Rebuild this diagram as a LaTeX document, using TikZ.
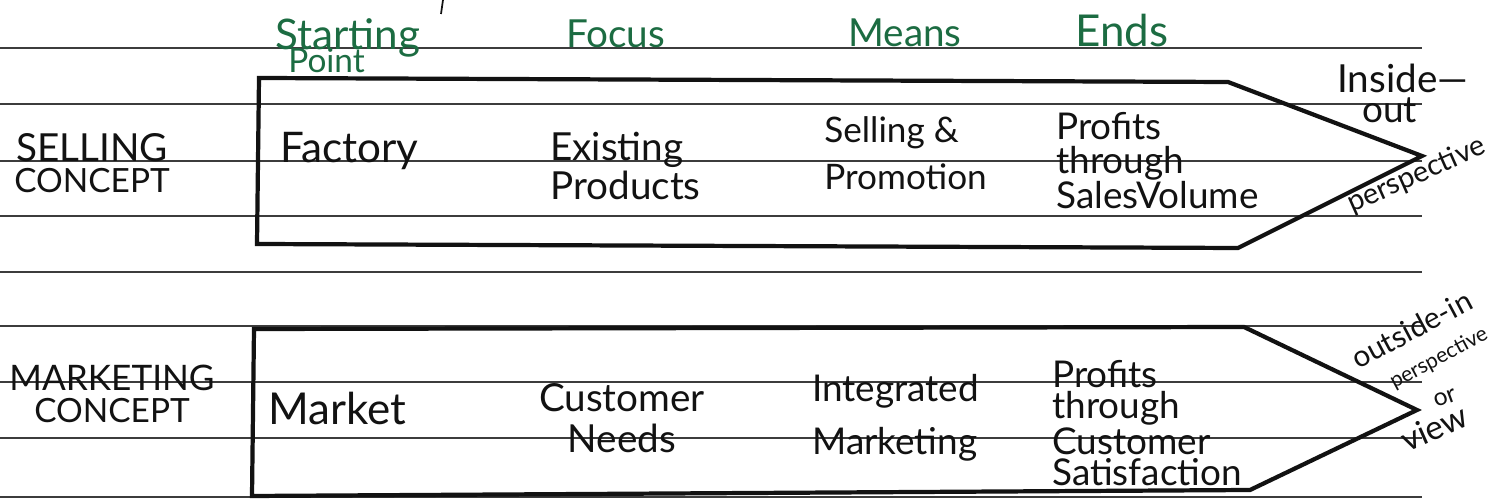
\documentclass[tikz,border=0pt]{standalone}
\usepackage{fontspec}
\setmainfont{Lato}
\definecolor{ink}{RGB}{18,18,18}
\definecolor{headgreen}{RGB}{28,108,66}
\definecolor{rulegray}{RGB}{60,60,60}
\newcommand{\fsz}[2]{\fontsize{#1}{#2}\selectfont}
\begin{document}
\begin{tikzpicture}[x=0.02cm,y=-0.02cm,
  ruled/.style={draw=rulegray, line width=1.1pt},
  outline/.style={draw=ink, line width=2.4pt, line join=miter},
  head/.style={text=headgreen, inner sep=0pt, anchor=base west, font=\fsz{22}{22}},
  word/.style={text=ink, inner sep=0pt},
  rowlabel/.style={word, align=center},
  cell/.style={word, align=left, anchor=west},
  note/.style={word, inner sep=0pt, anchor=base west}
]
\useasboundingbox (0,0) rectangle (1502,502);
\fill[white] (0,0) rectangle (1502,502);
\begin{scope}
\clip (0,0) rectangle (1502,502);

% ruled paper
\foreach \y in {48,104,161,216,272,326,382,438,497}
  \draw[ruled] (0,\y) -- (1422,\y);

% pen tick at the top
\draw[ink, line width=1pt] (443,0) -- (441,14);

% column headings
\node[head, font=\fsz{24}{24}] (hstart) at (275,50) {Starting};
\node[head, font=\fsz{19}{19}] (hpoint) at (288,73) {Point};
\node[head] (hfocus) at (566,48) {Focus};
\node[head] (hmeans) at (848,47) {Means};
\node[head, font=\fsz{25}{25}] (hends) at (1075,47) {Ends};

% selling concept arrow
\coordinate (s1) at (259,78);
\coordinate (s2) at (1228,82);
\coordinate (stip) at (1422,156);
\coordinate (s3) at (1238,248);
\coordinate (s4) at (257,244);
\draw[outline] (s1) -- (s2) -- (stip) -- (s3) -- (s4) -- cycle;

\node[rowlabel] (sell) at (92,163) {\fsz{22}{24}SELLING\\[3pt]\fsz{19}{21}CONCEPT};
\node[word, anchor=base west, font=\fsz{24}{24}] (factory) at (280,163) {Factory};
\node[cell, font=\fsz{22}{22}] (existing) at (550,166) {Existing\\Products};
\node[cell, font=\fsz{20}{27}] (selling) at (824,153) {Selling \&\\Promotion};
\node[cell, font=\fsz{21}{19}] (profits1) at (1056,161) {Profits\\through\\SalesVolume};

\node[note, font=\fsz{22}{22}] (inside) at (1337,93) {Inside—};
\node[note, font=\fsz{21}{21}] (out) at (1362,123) {out};
\node[note, rotate=24, font=\fsz{16.5}{16.5}] (persp1) at (1352,213) {perspective};

% marketing concept arrow
\coordinate (m1) at (254,329);
\coordinate (m2) at (1244,327);
\coordinate (mtip) at (1417,410);
\coordinate (m3) at (1250,490);
\coordinate (m4) at (252,496);
\draw[outline] (m1) -- (m2) -- (mtip) -- (m3) -- (m4) -- cycle;

\node[rowlabel] (mark) at (112,394) {\fsz{20}{22}MARKETING\\[3pt]\fsz{19}{22}CONCEPT};
\node[word, anchor=base west, font=\fsz{25}{25}] (market) at (268,425) {Market};
\node[word, align=center, font=\fsz{22}{23}] (customer) at (622,418) {Customer\\Needs};
\node[cell, font=\fsz{21}{30}] (integrated) at (812,418) {Integrated\\Marketing};
\node[cell, font=\fsz{21}{18}] (profits2) at (1052,423) {Profits\\through\\Customer\\Satisfaction};

\node[note, rotate=28, font=\fsz{17}{17}] (outin) at (1358,370) {outside-in};
\node[note, rotate=28, font=\fsz{12}{12}] (persp2) at (1394,389) {perspective};
\node[note, rotate=20, font=\fsz{14}{14}] (or) at (1436,408) {or};
\node[note, rotate=24, font=\fsz{19}{19}] (view) at (1407,453) {view};
\end{scope}
\end{tikzpicture}
\end{document}
